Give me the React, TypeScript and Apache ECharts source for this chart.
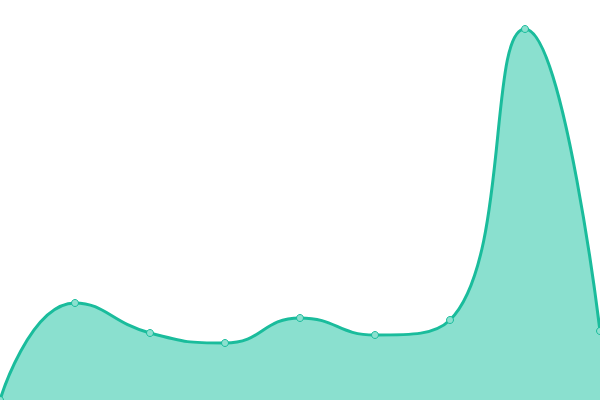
import React, { useEffect, useRef } from 'react';
import * as echarts from 'echarts';

const categories = ['1', '2', '3', '4', '5', '6', '7', '8', '9'];
const values = [0, 97, 67, 57, 82, 65, 80, 371, 69];

const App: React.FC = () => {
  const chartref = useRef<HTMLDivElement>(null);
  useEffect(() => {
    const myChart = echarts.init(chartref.current as HTMLDivElement, null, {
      renderer: 'svg',
    });
    const option: echarts.EChartsOption = {
      animation: false,
      grid: { left: 0, right: 0, top: 0, bottom: 0 },
      xAxis: {
        type: 'category',
        boundaryGap: false,
        data: categories,
        show: false,
      },
      yAxis: {
        type: 'value',
        min: 0,
        max: 400,
        show: false,
      },
      series: [
        {
          type: 'line',
          data: values,
          smooth: true,
          symbol: 'circle',
          symbolSize: 7,
          lineStyle: { color: '#1abc9c', width: 3 },
          itemStyle: { color: '#8ce0cf', borderColor: '#1abc9c', borderWidth: 1 },
          areaStyle: { color: '#8ae0cf', opacity: 1 },
        },
      ],
    };
    myChart.setOption(option);
    return () => {
      myChart.dispose();
    };
  }, []);

  return (
    <div
      ref={chartref}
      style={{ position: 'fixed', left: 0, top: 0, width: 600, height: 400 }}
    />
  );
};
export default App;
